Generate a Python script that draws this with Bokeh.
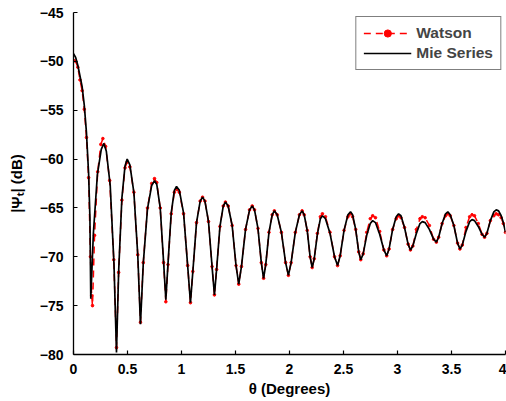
from bokeh.plotting import figure
from bokeh.models import Range1d, FixedTicker, Legend, LegendItem
from bokeh.embed import file_html
from bokeh.resources import INLINE

# ---- data ----
theta = [
    0.000, 0.020, 0.040, 0.060, 0.080, 0.100, 0.120, 0.140, 0.152, 0.160,
    0.184, 0.221, 0.257, 0.281, 0.304, 0.340, 0.375, 0.398,
    0.418, 0.448, 0.477, 0.497, 0.522, 0.559, 0.595, 0.620,
    0.646, 0.685, 0.724, 0.750, 0.771, 0.803, 0.834, 0.855,
    0.875, 0.905, 0.934, 0.954, 0.980, 1.019, 1.057, 1.083,
    1.105, 1.139, 1.173, 1.195, 1.217, 1.250, 1.283, 1.305,
    1.325, 1.356, 1.387, 1.407, 1.432, 1.469, 1.505, 1.530,
    1.555, 1.593, 1.630, 1.655, 1.676, 1.708, 1.739, 1.760,
    1.780, 1.810, 1.840, 1.860, 1.886, 1.925, 1.964, 1.990,
    2.015, 2.054, 2.092, 2.117, 2.136, 2.164, 2.191, 2.210,
    2.229, 2.258, 2.286, 2.305, 2.333, 2.375, 2.417, 2.445,
    2.469, 2.505, 2.541, 2.565, 2.584, 2.613, 2.641, 2.660,
    2.682, 2.715, 2.748, 2.770, 2.796, 2.835, 2.874, 2.900,
    2.922, 2.955, 2.988, 3.010, 3.032, 3.065, 3.098, 3.120,
    3.142, 3.175, 3.208, 3.230, 3.256, 3.295, 3.334, 3.360,
    3.381, 3.413, 3.445, 3.466, 3.488, 3.522, 3.556, 3.578,
    3.600, 3.634, 3.668, 3.690, 3.713, 3.748, 3.783, 3.806,
    3.828, 3.860, 3.892, 3.914, 3.936, 3.960, 3.980, 4.000,
]
mie_theta = theta
mie_db = [
    -49.2, -49.6, -50.4, -51.5, -52.6, -54.5, -57.3, -61.5, -66.0, -74.3,
    -67.6, -61.6, -59.0, -58.4, -59.2, -62.7, -70.8, -79.8,
    -71.5, -64.0, -60.7, -60.0, -60.6, -63.4, -69.8, -76.9,
    -70.7, -65.1, -62.7, -62.2, -62.6, -65.0, -70.5, -74.4,
    -70.7, -65.5, -63.2, -62.8, -63.2, -65.5, -70.9, -74.7,
    -71.5, -66.5, -64.3, -63.9, -64.3, -66.4, -71.0, -73.9,
    -71.3, -66.9, -64.8, -64.4, -64.8, -66.8, -70.9, -72.8,
    -71.0, -67.2, -65.2, -64.8, -65.2, -67.1, -70.6, -72.2,
    -70.8, -67.5, -65.7, -65.3, -65.7, -67.5, -70.6, -71.9,
    -70.6, -67.5, -65.7, -65.3, -65.7, -67.3, -70.0, -71.1,
    -70.2, -67.7, -66.1, -65.8, -66.1, -67.6, -70.0, -70.9,
    -69.9, -67.3, -65.7, -65.4, -65.7, -67.2, -69.5, -70.3,
    -69.7, -67.8, -66.6, -66.3, -66.5, -67.7, -69.3, -69.9,
    -69.2, -67.2, -65.9, -65.6, -65.8, -67.0, -68.7, -69.3,
    -68.9, -67.6, -66.6, -66.4, -66.5, -67.2, -68.2, -68.5,
    -68.0, -66.6, -65.6, -65.4, -65.7, -66.8, -68.6, -69.2,
    -68.8, -67.4, -66.4, -66.2, -66.3, -66.9, -67.7, -68.0,
    -67.6, -66.3, -65.4, -65.2, -65.3, -65.8, -66.5, -67.5,
]

watson_theta = [
    0.000, 0.020, 0.040, 0.060, 0.080, 0.100, 0.120, 0.140, 0.157, 0.168, 0.176,
    0.195, 0.224, 0.253, 0.272, 0.297, 0.335, 0.373, 0.398,
] + theta[18:]
watson_db = [
    -49.9, -50.0, -50.6, -51.9, -53.0, -54.9, -57.8, -61.9, -70.0, -74.0, -75.0,
    -67.8, -61.3, -58.5, -57.9, -58.7, -62.2, -70.3, -79.3,
    -71.6, -64.2, -60.9, -60.3, -60.8, -63.4, -69.8, -76.7,
    -70.6, -65.0, -62.5, -62.0, -62.4, -65.0, -70.6, -74.6,
    -70.8, -65.6, -63.4, -63.1, -63.4, -65.6, -70.9, -74.7,
    -71.5, -66.5, -64.3, -63.9, -64.3, -66.4, -71.0, -73.9,
    -71.3, -66.9, -64.8, -64.4, -64.8, -66.8, -70.9, -72.8,
    -71.0, -67.2, -65.2, -64.8, -65.2, -67.1, -70.6, -72.2,
    -70.8, -67.5, -65.7, -65.3, -65.7, -67.5, -70.6, -71.9,
    -70.6, -67.5, -65.7, -65.3, -65.7, -67.3, -70.0, -71.1,
    -70.2, -67.6, -65.9, -65.6, -65.9, -67.5, -70.0, -70.9,
    -69.9, -67.3, -65.9, -65.6, -65.9, -67.2, -69.5, -70.3,
    -69.7, -67.5, -66.1, -65.8, -66.0, -67.4, -69.3, -69.9,
    -69.2, -67.2, -66.1, -65.8, -66.0, -67.0, -68.7, -69.3,
    -68.9, -67.2, -66.1, -65.9, -66.0, -66.8, -68.2, -68.5,
    -68.0, -66.6, -65.8, -65.6, -65.8, -66.8, -68.6, -69.2,
    -68.8, -67.0, -65.9, -65.7, -65.8, -66.6, -67.7, -68.0,
    -67.6, -66.3, -65.8, -65.6, -65.7, -66.0, -66.6, -67.5,
]

x_ticks = [0, 0.5, 1, 1.5, 2, 2.5, 3, 3.5, 4]
y_ticks = [-80, -75, -70, -65, -60, -55, -50, -45]
x_tick_labels = {0: "0", 0.5: "0.5", 1: "1", 1.5: "1.5", 2: "2",
                 2.5: "2.5", 3: "3", 3.5: "3.5", 4: "4"}

FONT = "Liberation Sans"

p = figure(width=506, height=401, x_range=Range1d(0, 4), y_range=Range1d(-80, -45),
           output_backend="svg", toolbar_location=None,
           min_border_left=73, min_border_right=1, min_border_top=12, min_border_bottom=47)

p.grid.visible = False
p.outline_line_color = None
p.background_fill_color = "white"
p.border_fill_color = "white"

w_line = p.line(watson_theta, watson_db, line_color="red", line_width=1.5, line_dash="7 5")
w_pts = p.scatter(watson_theta, watson_db, marker="circle", size=2.6,
                  fill_color="red", line_color="red")
m_line = p.line(mie_theta, mie_db, line_color="black", line_width=1.7)

for ax in (p.xaxis[0], p.yaxis[0]):
    ax.axis_line_color = "black"
    ax.axis_line_width = 1.3
    ax.major_tick_line_color = "black"
    ax.major_tick_line_width = 1.2
    ax.major_tick_in = 4
    ax.major_tick_out = 0
    ax.minor_tick_line_color = None
    ax.major_label_text_font = FONT
    ax.major_label_text_font_style = "bold"
    ax.major_label_text_font_size = "14px"
    ax.major_label_text_color = "black"
    ax.axis_label_text_font = FONT
    ax.axis_label_text_font_style = "bold"
    ax.axis_label_text_font_size = "15px"
    ax.axis_label_text_color = "black"

p.xaxis.ticker = FixedTicker(ticks=x_ticks)
p.xaxis.major_label_overrides = x_tick_labels
p.yaxis.ticker = FixedTicker(ticks=y_ticks)
p.xaxis.axis_label = "θ (Degrees)"
p.yaxis.axis_label = "|Ψₜ| (dB)"
p.xaxis.major_label_standoff = 9
p.xaxis.axis_label_standoff = 3
p.yaxis.major_label_standoff = 10
p.yaxis.axis_label_standoff = 12

legend = Legend(items=[LegendItem(label="Watson", renderers=[w_line, w_pts]),
                       LegendItem(label="Mie Series", renderers=[m_line])],
                location="top_right")
legend.margin = 4
legend.padding = 7
legend.spacing = 2
legend.glyph_width = 48
legend.glyph_height = 18
legend.label_standoff = 5
legend.label_text_font = FONT
legend.label_text_font_style = "bold"
legend.label_text_font_size = "15.5px"
legend.border_line_color = "black"
legend.border_line_width = 1.2
legend.background_fill_alpha = 1.0
p.add_layout(legend)

open("out.html", "w").write(file_html(p, INLINE))
